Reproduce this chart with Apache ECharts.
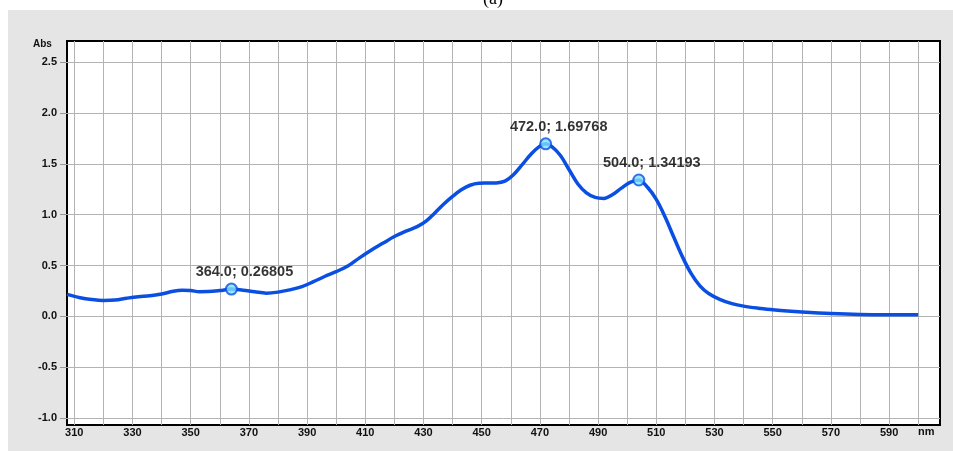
<!DOCTYPE html>
<html>
<head>
<meta charset="utf-8">
<script src="https://cdn.jsdelivr.net/npm/echarts@6/dist/echarts.min.js"></script>
<style>
html,body{margin:0;padding:0;background:#fff;}
#chart{width:953px;height:451px;}
</style>
</head>
<body>
<div id="chart"></div>
<script>
// Spectrum data (wavelength nm, absorbance)
var wavelengths = [307.5,312,316,320,324,328,332,336,340,344,347,350,353,356,360,364,368,372,376,380,384,388,392,396,400,404,408,412,416,420,424,428,431,434,437,440,443,446,449,452,455,458,461,464,467,470,472,474,477,480,483,486,489,492,495,498,501,504,507,510,513,516,519,522,525,528,532,536,540,545,550,555,560,570,580,590,600];
var absorbance = [0.216,0.183,0.165,0.156,0.160,0.178,0.193,0.202,0.220,0.246,0.256,0.253,0.242,0.243,0.253,0.268,0.256,0.241,0.228,0.238,0.260,0.290,0.338,0.392,0.440,0.495,0.575,0.650,0.718,0.785,0.838,0.885,0.940,1.020,1.105,1.180,1.245,1.290,1.310,1.312,1.313,1.330,1.395,1.495,1.598,1.675,1.698,1.672,1.585,1.445,1.305,1.215,1.170,1.160,1.198,1.262,1.318,1.342,1.270,1.150,0.980,0.780,0.585,0.420,0.300,0.225,0.165,0.125,0.100,0.080,0.065,0.052,0.042,0.027,0.018,0.016,0.016];
// Annotated peaks
var peakWl = [364.0, 472.0, 504.0];
var peakAbs = [0.26805, 1.69768, 1.34193];
// Tick labels
var xLabelValues = [310,330,350,370,390,410,430,450,470,490,510,530,550,570,590];
var xGridValues = [310,320,330,340,350,360,370,380,390,400,410,420,430,440,450,460,470,480,490,500,510,520,530,540,550,560,570,580,590,600];
var yTickValues = [-1.0,-0.5,0.0,0.5,1.0,1.5,2.0,2.5];

var lineData = wavelengths.map(function(w,i){return [w, absorbance[i]];});
var peakData = peakWl.map(function(w,i){return [w, peakAbs[i]];});

var chart = echarts.init(document.getElementById('chart'), null, {renderer:'canvas'});
var FF = '"Liberation Sans", Arial, sans-serif';
var labelFont = {color:'#111', fontSize:11, fontWeight:'bold', fontFamily:FF};
chart.setOption({
  animation:false,
  backgroundColor:'#ffffff',
  graphic:[
    {type:'rect', z:-10, shape:{x:8,y:10,width:945,height:441}, style:{fill:'#e5e5e5'}},
    {type:'text', z:5, left:483, top:-10, style:{text:'(a)', fontSize:18, fontFamily:'"Liberation Serif", serif', fill:'#000'}},
    {type:'text', z:5, left:33, top:39, style:{text:'Abs', fontSize:10, fontWeight:'bold', fontFamily:FF, fill:'#111'}},
    {type:'text', z:5, left:918, top:426, style:{text:'nm', fontSize:11, fontWeight:'bold', fontFamily:FF, fill:'#111'}}
  ],
  grid:{left:67, top:41, right:13, bottom:26, show:true, backgroundColor:'#ffffff', borderColor:'#000', borderWidth:2},
  xAxis:{
    type:'value', min:307.5, max:607.5,
    axisLine:{show:false},
    axisTick:{show:false, customValues:xGridValues},
    axisLabel:Object.assign({customValues:xLabelValues, margin:2, formatter:function(v){return String(Math.round(v));}}, labelFont),
    splitLine:{show:true, lineStyle:{color:'#b3b3b3', width:1}}
  },
  yAxis:{
    type:'value', min:-1.07, max:2.71,
    axisLine:{show:false},
    axisTick:{show:true, customValues:yTickValues, length:7, inside:false, lineStyle:{color:'#999'}},
    axisLabel:Object.assign({customValues:yTickValues, margin:10, formatter:function(v){return v.toFixed(1);}}, labelFont),
    splitLine:{show:true, lineStyle:{color:'#b3b3b3', width:1}}
  },
  series:[
    {type:'line', data:lineData, smooth:0.35, showSymbol:false, lineStyle:{color:'#0b4fe2', width:3.5}, z:3},
    {type:'scatter', data:peakData, symbol:'circle', symbolSize:11,
     itemStyle:{color:'#7fe0ff', borderColor:'#0b4fe2', borderWidth:2}, z:4,
     label:{show:true, position:'top', distance:3, offset:[13,0], color:'#000', fontSize:14.5, fontWeight:'bold', fontFamily:FF,
       formatter:function(p){return p.value[0].toFixed(1)+'; '+p.value[1].toFixed(5);}}}
  ]
});
</script>
</body>
</html>
